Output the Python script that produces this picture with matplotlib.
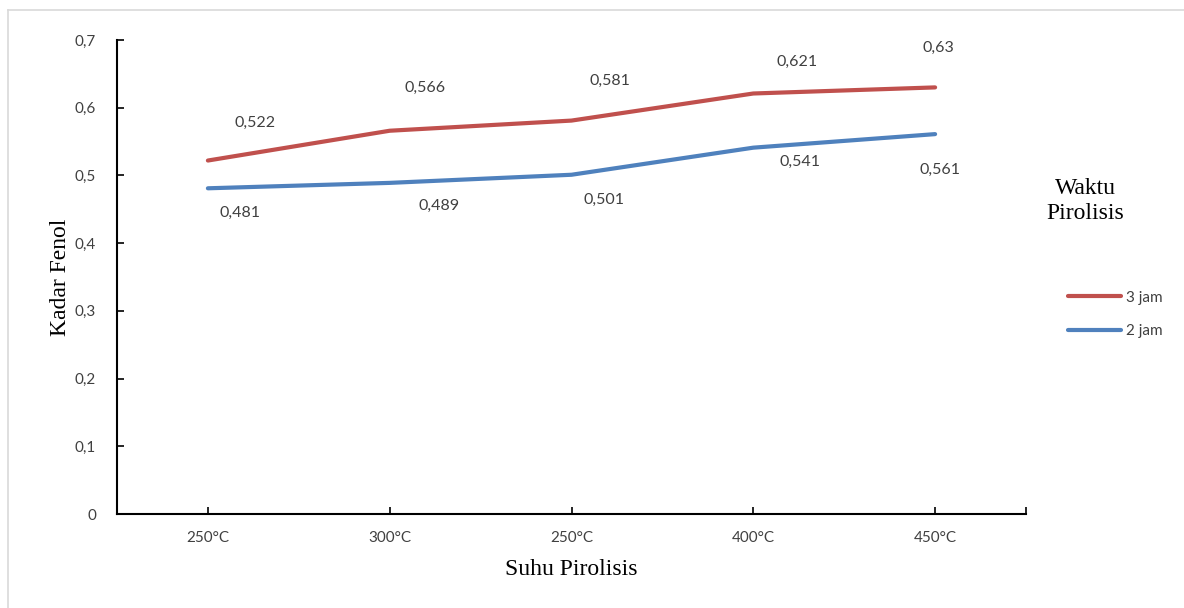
import matplotlib
matplotlib.use("Agg")
import matplotlib.pyplot as plt
from matplotlib.lines import Line2D

categories = ["250°C", "300°C", "250°C", "400°C", "450°C"]
jam3 = [0.522, 0.566, 0.581, 0.621, 0.63]
jam2 = [0.481, 0.489, 0.501, 0.541, 0.561]
yticks = [0, 0.1, 0.2, 0.3, 0.4, 0.5, 0.6, 0.7]
ytick_labels = ["0", "0,1", "0,2", "0,3", "0,4", "0,5", "0,6", "0,7"]
labels3 = ["0,522", "0,566", "0,581", "0,621", "0,63"]
labels2 = ["0,481", "0,489", "0,501", "0,541", "0,561"]

# label offsets in pixels (dx, dy) relative to each point
off3 = [(47, 38), (35, 43), (38, 40), (44, 32), (3, 40)]
off2 = [(32, -25), (49, -23), (32, -25), (47, -14), (5, -36)]

RED = "#C0504D"
BLUE = "#4F81BD"
sans = "Lato"
serif = "Liberation Serif"

W, H = 1184, 608
fig = plt.figure(figsize=(W / 100, H / 100), dpi=100)
fig.patch.set_facecolor("white")

# left/top light border
fig.add_artist(Line2D([8 / W, 8 / W], [0, 1 - 10 / H], transform=fig.transFigure, color="#D9D9D9", lw=1.2))
fig.add_artist(Line2D([8 / W, 1], [1 - 10 / H, 1 - 10 / H], transform=fig.transFigure, color="#D9D9D9", lw=1.2))

ax = fig.add_axes([117 / W, 1 - 514 / H, (1026 - 117) / W, (514 - 40) / H])
x = list(range(len(categories)))
ax.plot(x, jam3, color=RED, lw=3, solid_capstyle="round", label="3 jam")
ax.plot(x, jam2, color=BLUE, lw=3, solid_capstyle="round", label="2 jam")

for xi, v, t, (dx, dy) in zip(x, jam3, labels3, off3):
    ax.annotate(t, (xi, v), xytext=(dx, dy), textcoords="offset pixels",
                ha="center", va="center", fontsize=11.5, family=sans, color="#404040")
for xi, v, t, (dx, dy) in zip(x, jam2, labels2, off2):
    ax.annotate(t, (xi, v), xytext=(dx, dy), textcoords="offset pixels",
                ha="center", va="center", fontsize=11.5, family=sans, color="#404040")

ax.set_xlim(-0.5, len(categories) - 0.5)
ax.set_ylim(0, 0.7)
ax.set_xticks(x)
ax.set_xticklabels(categories, family=sans, fontsize=11, color="#404040")
ax.set_xticks([-0.5, len(categories) - 0.5], minor=True)
ax.set_yticks(yticks)
ax.set_yticklabels(ytick_labels, family=sans, fontsize=11, color="#404040")
ax.tick_params(axis="both", which="both", direction="in", length=5, width=1.2, color="black")
ax.tick_params(axis="x", pad=12)
ax.tick_params(axis="y", pad=15)
for s in ["top", "right"]:
    ax.spines[s].set_visible(False)
for s in ["left", "bottom"]:
    ax.spines[s].set_linewidth(1.5)
    ax.spines[s].set_color("black")

ax.set_xlabel("Suhu Pirolisis", family=serif, fontsize=17, labelpad=10)
ax.set_ylabel("Kadar Fenol", family=serif, fontsize=17, labelpad=3)

fig.text(1085 / W, 1 - 201 / H, "Waktu\nPirolisis", family=serif, fontsize=17,
         ha="center", va="center", linespacing=1.25)

leg = fig.legend(loc="upper left", bbox_to_anchor=(1054 / W, 1 - 277 / H),
                 frameon=False, prop={"family": sans, "size": 11},
                 handlelength=3.5, handletextpad=0.3, labelspacing=1.25, labelcolor="#404040")

fig.savefig("out.png", dpi=100)
